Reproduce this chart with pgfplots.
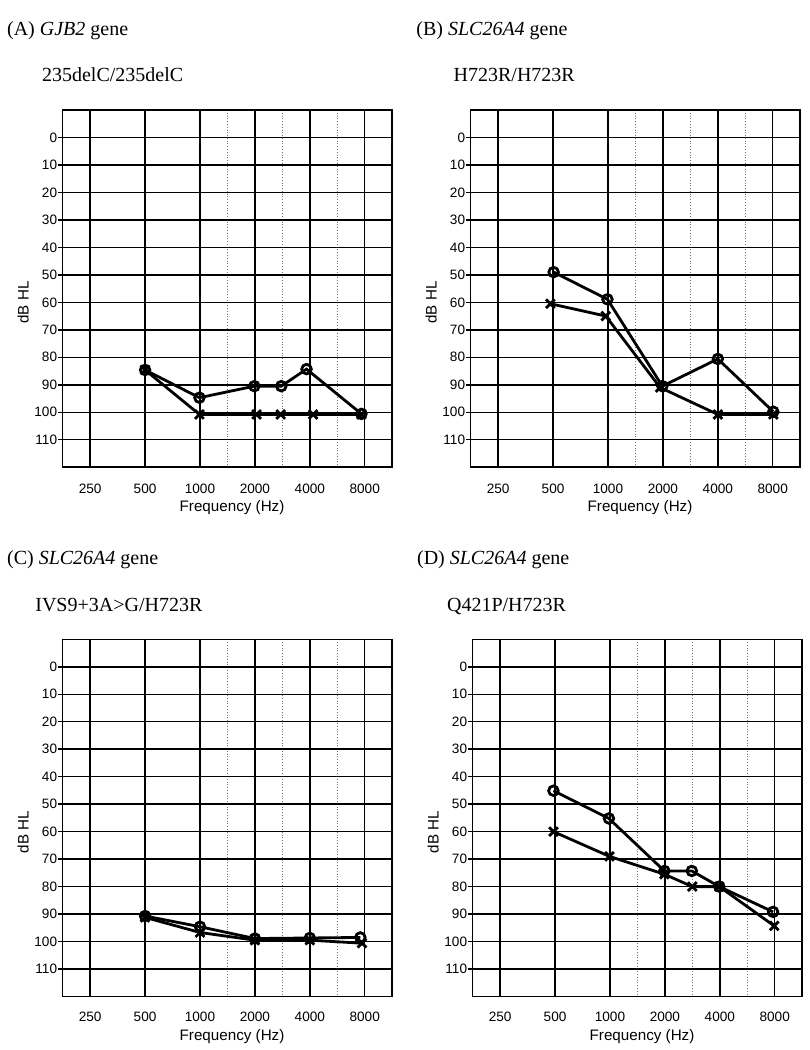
\documentclass[border=0pt]{standalone}
\usepackage{pgfplots}
\pgfplotsset{compat=1.18}
\usepackage{fontspec}
\setmainfont{Liberation Serif}
\setsansfont{Liberation Sans}
\pgfplotsset{
  audiogram/.style={
    scale only axis,
    width=164.75bp,
    height=178.6bp,
    anchor=north west,
    xmin=-0.5, xmax=5.5,
    ymin=-10, ymax=120,
    y dir=reverse,
    xtick={0,1,2,3,4,5},
    minor xtick={2.5,3.5,4.5},
    ytick={0,10,20,30,40,50,60,70,80,90,100,110},
    minor ytick={},
    grid=both,
    major grid style={black, line width=0.75bp},
    minor grid style={black!55, densely dotted, line width=0.45bp},
    axis line style={black, line width=0.75bp},
    tick pos=left,
    tick align=outside,
    major tick length=2.2bp,
    minor tick length=0pt,
    xtick style={draw=none},
    ytick style={black, line width=0.75bp},
    font=\sffamily,
    /pgf/number format/assume math mode=true,
    ticklabel style={font=\sffamily\fontsize{6.8bp}{8bp}\selectfont},
    yticklabel style={inner sep=0.4bp},
    label style={font=\sffamily\fontsize{7.6bp}{9bp}\selectfont},
    xlabel={Frequency (Hz)},
    ylabel={dB HL},
    xlabel style={at={(axis description cs:0.5,0)}, anchor=center, yshift=-20bp, xshift=2.3bp},
    ylabel style={at={(axis description cs:-0.12,0.5)}, anchor=center, xshift=-7bp},
    clip=false,
  },
  ear/.style={black, line width=1.4bp, mark options={solid, line width=1.4bp}},
  right/.style={ear, mark=o, mark size=2.4bp},
  left/.style={ear, mark=x, mark size=3.1bp},
}
\newcommand{\ttl}{\fontsize{10bp}{12bp}\selectfont}
\begin{document}
\begin{tikzpicture}
\useasboundingbox (0,0) rectangle (405bp,-525bp);
% titles
\node[anchor=base west, inner sep=0pt, font=\ttl] at (3.35bp,-17.5bp) {(A) \textit{GJB2} gene};
\node[anchor=base west, inner sep=0pt, font=\ttl] at (20.85bp,-40.85bp) {235delC/235delC};
\node[anchor=base west, inner sep=0pt, font=\ttl] at (208bp,-17.5bp) {(B) \textit{SLC26A4} gene};
\node[anchor=base west, inner sep=0pt, font=\ttl] at (226.65bp,-40.85bp) {H723R/H723R};
\node[anchor=base west, inner sep=0pt, font=\ttl] at (3.35bp,-282.15bp) {(C) \textit{SLC26A4} gene};
\node[anchor=base west, inner sep=0pt, font=\ttl] at (17.5bp,-305.85bp) {IVS9+3A>G/H723R};
\node[anchor=base west, inner sep=0pt, font=\ttl] at (208.35bp,-282.15bp) {(D) \textit{SLC26A4} gene};
\node[anchor=base west, inner sep=0pt, font=\ttl] at (223.35bp,-305.85bp) {Q421P/H723R};

% (A)
\begin{axis}[audiogram, at={(31.35bp,-55bp)}, xticklabel style={yshift=-2.6bp},
  xticklabels={250,500,1000,\raisebox{1.2bp}{2000},\raisebox{1.2bp}{4000},\raisebox{0.8bp}{8000}}]
\addplot[right] coordinates {(1,84.6) (1.99,94.7) (2.99,90.5) (3.48,90.5) (3.94,84.3) (4.94,100.6)};
\addplot[left] coordinates {(1,84.6) (1.99,100.8) (3.03,100.8) (3.47,100.8) (4.06,100.8) (4.94,100.8)};
\end{axis}

% (B)
\begin{axis}[audiogram, at={(235.35bp,-55bp)}, xticklabel style={yshift=-2.6bp},
  xticklabels={250,500,1000,\raisebox{1.2bp}{2000},\raisebox{1.2bp}{4000},\raisebox{0.8bp}{8000}}]
\addplot[right] coordinates {(1.01,49) (1.99,58.9) (2.99,90.5) (4,80.6) (5.01,99.8)};
\addplot[left] coordinates {(0.95,60.5) (1.96,65) (2.95,91) (4,100.8) (5.01,100.8)};
\end{axis}

% (C)
\begin{axis}[audiogram, at={(31.35bp,-319.65bp)}, xticklabel style={yshift=-2.1bp},
  xticklabels={250,500,1000,2000,4000,8000}]
\addplot[right] coordinates {(1,90.7) (2,94.6) (3,98.9) (4,98.7) (4.92,98.5)};
\addplot[left] coordinates {(1,91.2) (2,96.7) (3,99.5) (4,99.5) (4.95,100.6)};
\end{axis}

% (D)
\begin{axis}[audiogram, at={(236.35bp,-319.65bp)}, xticklabel style={yshift=-2.1bp},
  xticklabels={250,500,1000,2000,4000,8000}]
\addplot[right] coordinates {(0.97,45.1) (1.98,55.2) (2.99,74.3) (3.49,74.3) (3.99,80) (4.97,89.2)};
\addplot[left] coordinates {(0.97,60) (1.99,69) (2.99,75.5) (3.5,80) (3.99,80) (4.99,94.3)};
\end{axis}
\end{tikzpicture}
\end{document}
